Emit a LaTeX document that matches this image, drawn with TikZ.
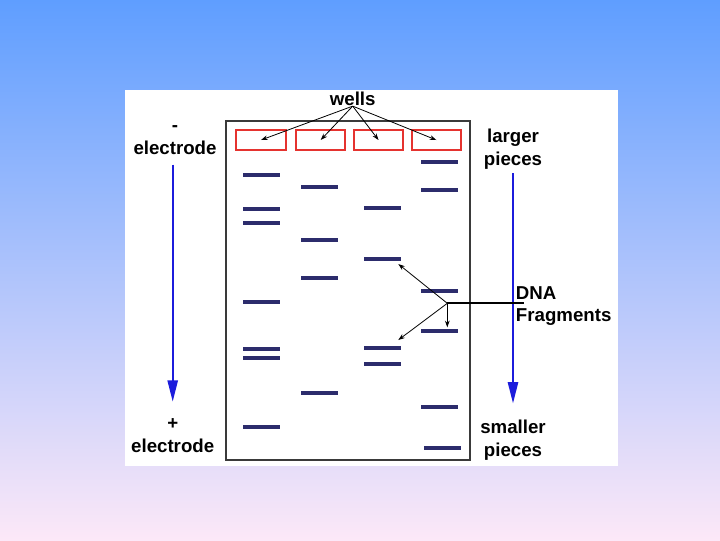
\documentclass[tikz,border=0pt]{standalone}
\usepackage{fontspec}
\setmainfont{Liberation Sans}
\usepackage{xcolor}
\usetikzlibrary{arrows.meta, positioning, calc}
\definecolor{skytop}{HTML}{5F9EFF}
\definecolor{skymid}{HTML}{94C4F6}
\definecolor{skybot}{HTML}{FCE8F8}
\definecolor{gelframe}{HTML}{3A3A3A}
\definecolor{wellred}{HTML}{E5332F}
\definecolor{bandnavy}{HTML}{2C2C6C}
\definecolor{runblue}{HTML}{1C1CDC}
\tikzset{
  lbl/.style      = {font=\fontsize{14}{16.8}\selectfont\bfseries, align=center, inner sep=0pt},
  lblleft/.style  = {lbl, align=left, anchor=west},
  well/.style     = {draw=wellred, line width=1.5pt, rectangle, minimum width=37pt,
                     minimum height=15.5pt, inner sep=0pt},
  band/.style     = {fill=bandnavy, rectangle, minimum width=27.75pt, minimum height=3.3pt, inner sep=0pt},
  runarrow/.style = {-{Triangle[length=16pt,width=7.5pt]}, draw=runblue, line width=1.8pt},
  pointer/.style  = {-{Stealth[length=5pt,width=3.5pt]}, draw=black, line width=0.6pt},
}

\begin{document}
\begin{tikzpicture}[x=0.75pt, y=-0.75pt]
  % slide backdrop and white panel
  \fill[top color=skytop, middle color=skymid, bottom color=skybot] (0,0) rectangle (720,540);
  \fill[white] (125,90) rectangle (618,466);

  % gel
  \draw[gelframe, line width=1.5pt] (226,121) rectangle (470,460);
  \node[well] (well1) at (261,140) {};
  \node[well] (well2) at (320.7,140) {};
  \node[well] (well3) at (378.5,140) {};
  \node[well] (well4) at (436.3,140) {};

  % bands, lane by lane
  \foreach \y [count=\i] in {175,209,223,302,349,358,427}
    \node[band] (b1-\i) at (261.7,\y) {};
  \foreach \y [count=\i] in {187,240,278,393}
    \node[band] (b2-\i) at (319,\y) {};
  \foreach \y [count=\i] in {208,259,348,364}
    \node[band] (b3-\i) at (382,\y) {};
  \foreach \y [count=\i] in {162,190,291,331,407}
    \node[band] (b4-\i) at (439.5,\y) {};
  \node[band] (b4-6) at (442.5,448) {};

  % labels
  \node[lbl] (wellslbl) at (352.7,99) {wells};
  \node[lbl] (negel) at (175,140) {-\\electrode};
  \node[lbl] (posel) at (172.7,435.5) {+\\electrode};
  \node[lbl] (largelbl) at (513,149) {larger\\pieces};
  \node[lbl] (smalllbl) at (513,440) {smaller\\pieces};
  \node[lblleft] (dnalbl) at (515.7,306) {DNA\\Fragments};

  \draw[pointer] (wellslbl.south) -- (well1.center);
  \draw[pointer] (wellslbl.south) -- (well2.center);
  \draw[pointer] (wellslbl.south) -- (well3.center);
  \draw[pointer] (wellslbl.south) -- (well4.center);

  \draw[runarrow, shorten <=7.5pt, shorten >=12.5pt] (posel.north |- negel.south) -- (posel.north);
  \draw[runarrow, shorten <=3pt, shorten >=12.2pt] (largelbl.south) -- (smalllbl.north);

  % pointer to the fragments
  \coordinate (dnafork) at (447.3,303.3);
  \coordinate (dnaend) at (524,303.3);
  \coordinate (tipup) at (398.3,264);
  \coordinate (tipdown) at (447.3,327.3);
  \coordinate (tiplow) at (398.3,340);
  \draw[black, line width=1.4pt] (dnafork) -- (dnaend);
  \draw[pointer] (dnafork) -- (tipup);
  \draw[pointer] (dnafork) -- (tipdown);
  \draw[pointer] (dnafork) -- (tiplow);
\end{tikzpicture}
\end{document}
